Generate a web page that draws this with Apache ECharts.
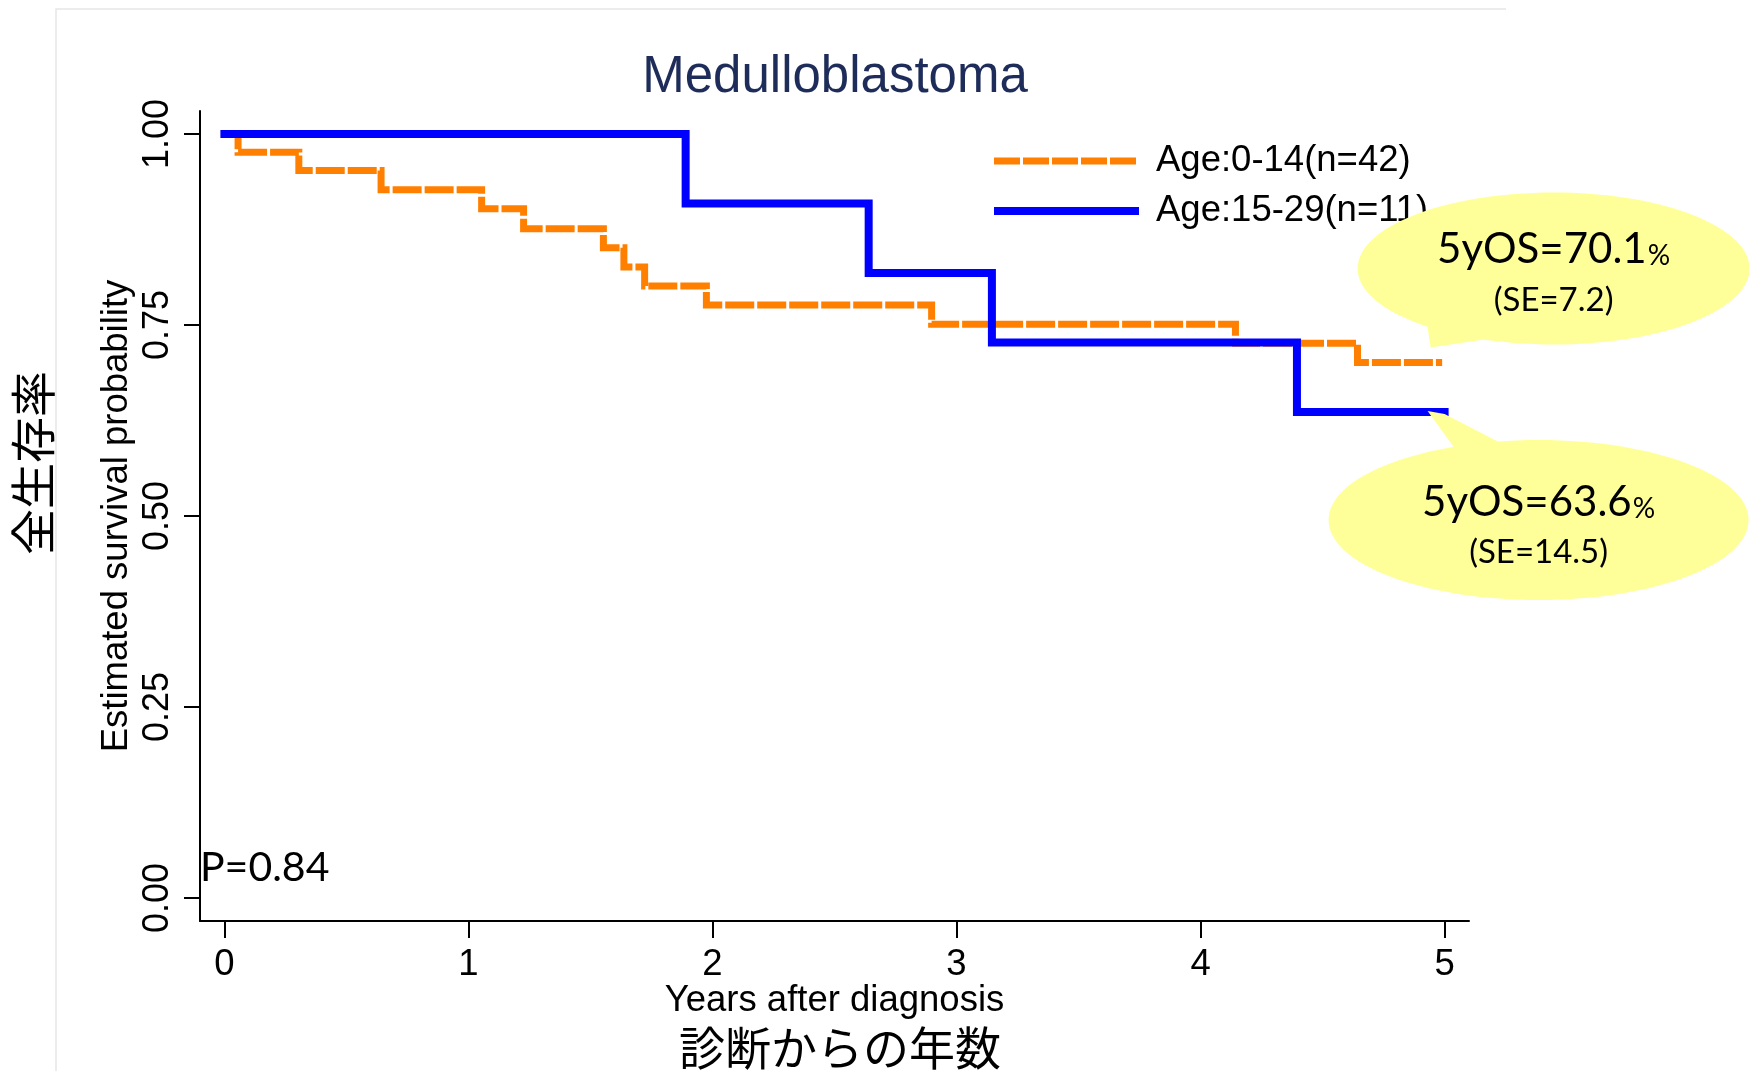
<!DOCTYPE html>
<html>
<head>
<meta charset="utf-8">
<script src="https://cdn.jsdelivr.net/npm/echarts@6/dist/echarts.min.js"></script>
<style>
html,body{margin:0;padding:0;background:#fff;}
#c{width:1749px;height:1071px;}
</style>
</head>
<body>
<div id="c"></div>
<script>
// ---- data ----
const seriesNames = ['Age:0-14(n=42)', 'Age:15-29(n=11)'];
const orangeTimes = [0, 0.056, 0.305, 0.642, 1.054, 1.226, 1.553, 1.637, 1.722, 1.975, 2.898, 4.143, 4.643, 4.99];
const orangeSurv  = [1, 0.976, 0.952, 0.927, 0.902, 0.876, 0.851, 0.826, 0.801, 0.776, 0.751, 0.726, 0.701, 0.701];
const blueTimes = [0, 1.89, 2.64, 3.145, 4.395, 5.0];
const blueSurv  = [1, 0.909, 0.818, 0.727, 0.636, 0.636];
const xTicks = [0, 1, 2, 3, 4, 5];
const yTicks = [0, 0.25, 0.5, 0.75, 1];
const callouts = [
  {at: [5, 0.701], main: '5yOS=70.1', se: '(SE=7.2)'},
  {at: [5, 0.636], main: '5yOS=63.6', se: '(SE=14.5)'}
];
const pValue = 'P=0.84';

const zip = (a, b) => a.map((v, i) => [v, b[i]]);
const FONT = "'Liberation Sans', Arial, sans-serif";
const JP = "'Noto Sans CJK JP', sans-serif";
const CAL = "Lato, 'Open Sans', sans-serif";
const ORANGE = '#ff8000', BLUE = '#0000ff';
const orangeLine = {color: ORANGE, width: 7, type: [29, 3], cap: 'butt', join: 'miter'};
const blueLine = {color: BLUE, width: 8, type: 'solid', cap: 'square', join: 'miter'};

const chart = echarts.init(document.getElementById('c'), null, {renderer: 'canvas'});
const option = {
  animation: false,
  backgroundColor: '#ffffff',
  title: [
    {text: 'Medulloblastoma', left: 835, top: 78, padding: 0, textAlign: 'center', textVerticalAlign: 'middle',
     textStyle: {fontFamily: FONT, fontSize: 51, fontWeight: 'normal', color: '#1e2c5a'}},
    {text: '診断からの年数', left: 840, top: 1048, padding: 0, textAlign: 'center', textVerticalAlign: 'middle',
     textStyle: {fontFamily: JP, fontSize: 46, fontWeight: 'normal', color: '#000'}}
  ],
  legend: {
    orient: 'vertical', left: 990, top: 138, padding: 0, itemWidth: 145, itemHeight: 8, itemGap: 4,
    data: [
      {name: seriesNames[0], itemStyle: {opacity: 0}, lineStyle: {width: 7, type: [26, 3], cap: 'butt'}},
      {name: seriesNames[1], itemStyle: {opacity: 0}, lineStyle: {width: 8, type: 'solid', cap: 'butt'}}
    ],
    textStyle: {fontFamily: FONT, fontSize: 36.5, color: '#000', lineHeight: 36, padding: [10, 0, 0, 12]}
  },
  grid: {left: 200, right: 280, top: 111, bottom: 150, containLabel: false},
  xAxis: {
    type: 'value', min: -0.1, max: 5.1,
    name: 'Years after diagnosis', nameLocation: 'middle', nameGap: 61, nameMoveOverlap: false,
    nameTextStyle: {fontFamily: FONT, fontSize: 36.5, color: '#000'},
    axisLine: {show: true, onZero: false, lineStyle: {color: '#000', width: 2}},
    axisTick: {show: true, length: 17, lineStyle: {color: '#000', width: 2}, customValues: xTicks},
    axisLabel: {fontFamily: FONT, fontSize: 36.5, color: '#000', margin: 25, customValues: xTicks,
                formatter: v => String(v)},
    splitLine: {show: false}
  },
  yAxis: {
    type: 'value', min: -0.03, max: 1.03,
    name: 'Estimated survival probability', nameLocation: 'middle', nameGap: 65, nameMoveOverlap: false,
    nameTextStyle: {fontFamily: FONT, fontSize: 36.5, color: '#000'},
    axisLine: {show: true, onZero: false, lineStyle: {color: '#000', width: 2}},
    axisTick: {show: true, length: 16, lineStyle: {color: '#000', width: 2}, customValues: yTicks},
    axisLabel: {fontFamily: FONT, fontSize: 36, color: '#000', margin: 24, rotate: 90, customValues: yTicks,
                formatter: v => v.toFixed(2)},
    splitLine: {show: false}
  },
  series: [
    {type: 'line', name: seriesNames[0], step: 'end', data: zip(orangeTimes, orangeSurv),
     symbol: 'none', showSymbol: false, z: 2,
     itemStyle: {color: ORANGE}, lineStyle: orangeLine},
    {type: 'line', name: seriesNames[1], step: 'end', data: zip(blueTimes, blueSurv),
     symbol: 'none', showSymbol: false, z: 3,
     itemStyle: {color: BLUE}, lineStyle: blueLine}
  ]
};
chart.setOption(option);

// ---- annotations anchored to the curve ends ----
const p1 = chart.convertToPixel({gridIndex: 0}, callouts[0].at);
const p2 = chart.convertToPixel({gridIndex: 0}, callouts[1].at);
const YEL = '#ffff99';
const mainRich = {
  a: {fontFamily: CAL, fontSize: 42, color: '#000', lineHeight: 46, verticalAlign: 'bottom'},
  b: {fontFamily: CAL, fontSize: 28, color: '#000', lineHeight: 46, verticalAlign: 'bottom', padding: [0, 0, 0, 1]}
};
function callout(p, c, ell, tail, mainDy, seDy) {
  return [
    {type: 'ellipse', z: 100, shape: {cx: p[0] + ell[0], cy: p[1] + ell[1], rx: ell[2], ry: ell[3]}, style: {fill: YEL}},
    {type: 'polygon', z: 100, shape: {points: tail.map(t => [p[0] + t[0], p[1] + t[1]])}, style: {fill: YEL}},
    {type: 'text', z: 101, x: p[0] + ell[0], y: p[1] + ell[1] + mainDy,
     style: {text: '{a|' + c.main + '}{b|%}', rich: mainRich, align: 'center', verticalAlign: 'middle'}},
    {type: 'text', z: 101, x: p[0] + ell[0], y: p[1] + ell[1] + seDy,
     style: {text: c.se, fontFamily: CAL, fontSize: 33, fill: '#000', align: 'center', verticalAlign: 'middle'}}
  ];
}
const graphics = [].concat(
  [{type: 'polyline', z: 0, shape: {points: [[56, 1071], [56, 9], [1506, 9]]}, style: {stroke: '#e6e6e6', lineWidth: 1.5, fill: null}},
   {type: 'text', z: 50, x: 33, y: 463, rotation: Math.PI / 2,
    style: {text: '全生存率', fontFamily: JP, fontSize: 46, fill: '#000', align: 'center', verticalAlign: 'middle'}},
   {type: 'text', z: 50, x: 200, y: 868,
    style: {text: pValue, fontFamily: CAL, fontSize: 41, fill: '#000', align: 'left', verticalAlign: 'middle'}}],
  callout(p1, callouts[0], [109, -94, 196, 76], [[-18, -42], [-14, -15], [46, -24], [20, -50]], -21, 32),
  callout(p2, callouts[1], [94, 108, 210, 80], [[-17, -1], [0, 2], [60, 33], [-18, 47], [20, 50]], -20, 32)
);
chart.setOption({graphic: graphics});
</script>
</body>
</html>
